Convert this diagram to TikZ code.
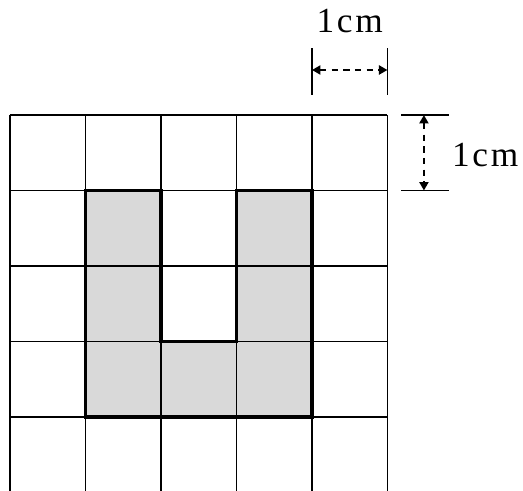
\documentclass[tikz,border=0pt]{standalone}
\usepackage{fontspec}
\setmainfont{Liberation Serif}
\usetikzlibrary{arrows.meta}

\begin{document}
\begin{tikzpicture}[>={Triangle[length=3.2pt,width=3.4pt]},
  grid line/.style={line width=0.6pt},
  outline/.style={line width=1.25pt},
  shade cell/.style={fill=gray!30},
  tick/.style={line width=0.6pt},
  dim arrow/.style={<->,line width=0.85pt,dash pattern=on 2.4pt off 2pt},
  dim label/.style={font=\fontsize{13.3}{15}\selectfont,inner sep=0pt}]

  \useasboundingbox (-0.132,-4.98) rectangle (6.795,1.523);
  \clip (-0.132,-4.98) rectangle (6.795,1.523);

  % shaded U
  \foreach \x/\y in {1/1,1/2,1/3,2/3,3/3,3/2,3/1}
    \fill[shade cell] (\x,-\y) rectangle ++(1,-1);

  \draw[grid line] (0,-5.5) grid (5,0);
  \draw[outline] (1,-1) -- (1,-4) -- (4,-4) -- (4,-1) -- (3,-1)
    -- (3,-3) -- (2,-3) -- (2,-1) -- cycle;

  % width mark
  \coordinate (w1) at (4,0.265);
  \coordinate (w2) at (4,0.887);
  \coordinate (w3) at (5,0.265);
  \coordinate (w4) at (5,0.887);
  \coordinate (wl) at (4,0.596);
  \coordinate (wr) at (5,0.596);
  \draw[tick] (w1) -- (w2);
  \draw[tick] (w3) -- (w4);
  \draw[dim arrow] (wl) -- (wr);
  \node[dim label] (wlabel) at (4.5,1.25) {1\kern1pt c\kern1pt m};

  % height mark
  \coordinate (h1) at (5.18,0);
  \coordinate (h2) at (5.81,0);
  \coordinate (h3) at (5.18,-1);
  \coordinate (h4) at (5.81,-1);
  \coordinate (ht) at (5.483,0);
  \coordinate (hb) at (5.483,-1);
  \draw[tick] (h1) -- (h2);
  \draw[tick] (h3) -- (h4);
  \draw[dim arrow] (ht) -- (hb);
  \node[dim label,anchor=west] (hlabel) at (5.85,-0.53) {1\kern1pt c\kern1pt m};

\end{tikzpicture}
\end{document}
